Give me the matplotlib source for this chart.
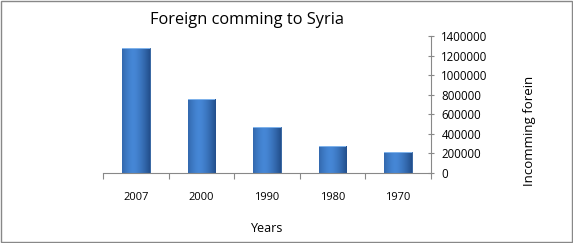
import matplotlib
matplotlib.use("Agg")
import matplotlib.pyplot as plt
import numpy as np
from matplotlib.patches import Rectangle
from matplotlib.colors import LinearSegmentedColormap

years = ["2007", "2000", "1990", "1980", "1970"]
values = [1275000, 755000, 470000, 275000, 215000]
yticks = [0, 200000, 400000, 600000, 800000, 1000000, 1200000, 1400000]

plt.rcParams['font.family'] = ['Open Sans', 'DejaVu Sans']

fig = plt.figure(figsize=(5.73, 2.43), dpi=100)
ax = fig.add_axes([0.18, 0.288, 0.572, 0.564])

x = np.arange(len(years))
bars = ax.bar(x, values, width=0.42, color="#3b78c4", edgecolor="#2a5b99", linewidth=0.6, zorder=2)

# horizontal gradient shading on each bar
grad = np.linspace(0, 1, 64)
shade = 1 - 0.6 * np.abs(grad - 0.4) ** 1.5
grad_img = np.vstack([shade, shade])
cmap = LinearSegmentedColormap.from_list("b", ["#234f8c", "#4687d6"])
for b in bars:
    x0, w, h = b.get_x(), b.get_width(), b.get_height()
    im = ax.imshow(grad_img, extent=[x0, x0 + w, 0, h], aspect="auto", cmap=cmap,
                   vmin=shade.min(), vmax=shade.max(), zorder=2.5, interpolation="bilinear")
    im.set_clip_path(b)
    ax.add_patch(Rectangle((x0, h - 12000), w, 12000, color="#7fb2ea", zorder=3, linewidth=0))

ax.set_xlim(-0.5, len(years) - 0.5)
ax.set_ylim(0, 1400000)
ax.set_xticks(np.arange(len(years) + 1) - 0.5, minor=False)
ax.set_xticklabels([])
ax.set_xticks(x, minor=True)
ax.set_xticklabels(years, minor=True)
ax.tick_params(axis="x", which="major", direction="out", length=4, color="#888888")
ax.tick_params(axis="x", which="minor", length=0, pad=14, labelsize=8)

ax.yaxis.tick_right()
ax.yaxis.set_label_position("right")
ax.set_yticks(yticks)
ax.set_yticklabels([str(v) for v in yticks])
ax.tick_params(axis="y", direction="inout", length=5, color="#888888", labelsize=8.3, pad=5)

for s in ["top", "left"]:
    ax.spines[s].set_visible(False)
ax.spines["bottom"].set_color("#888888")
ax.spines["right"].set_color("#888888")

ax.set_ylabel("Incomming forein", fontsize=9.5, rotation=90, va="center", ha="center")
ax.yaxis.set_label_coords(1.30, 0.31)
ax.set_xlabel("Years", fontsize=9, labelpad=13)
fig.text(0.431, 0.918, "Foreign comming to Syria", fontsize=11.8, ha="center", va="center")

fig.patches.append(Rectangle((0.002, 0.004), 0.996, 0.992, transform=fig.transFigure,
                             fill=False, edgecolor="#888888", linewidth=1))

fig.savefig("out.png", dpi=100)
